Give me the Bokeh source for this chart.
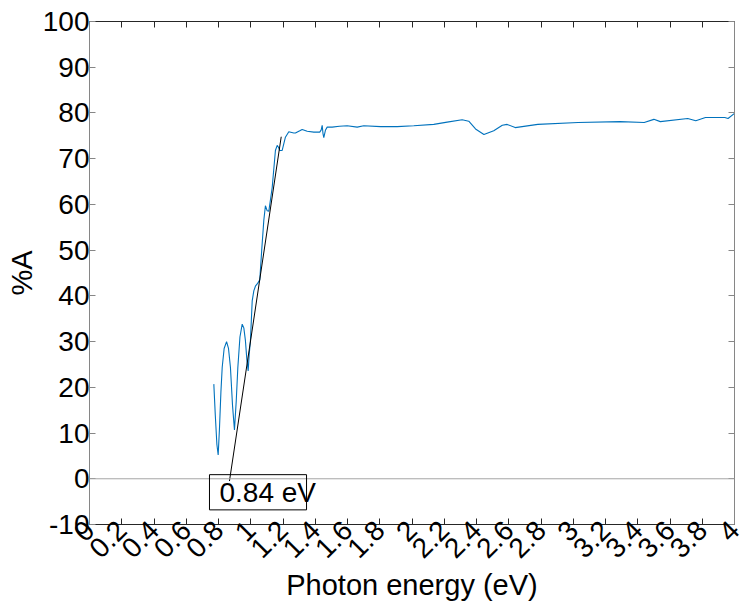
import math
from bokeh.plotting import figure
from bokeh.models import (LinearAxis, FixedTicker, Span, BoxAnnotation, Label, Range1d,
                          CustomLabelingPolicy)
from bokeh.embed import file_html
from bokeh.resources import INLINE

# ---- data ----
energy = [0.771, 0.780, 0.790, 0.798, 0.806, 0.815, 0.823, 0.835, 0.850, 0.862,
          0.874, 0.887, 0.899, 0.910, 0.920, 0.933, 0.947, 0.957, 0.967, 0.976,
          0.984, 0.990, 0.998, 1.009, 1.019, 1.030, 1.040, 1.056, 1.068, 1.081,
          1.091, 1.102, 1.112, 1.133, 1.153, 1.164, 1.172, 1.180, 1.195, 1.215,
          1.236, 1.267, 1.277, 1.304, 1.319, 1.350, 1.391, 1.428, 1.437, 1.443,
          1.448, 1.453, 1.463, 1.474, 1.505, 1.550, 1.598, 1.660, 1.701, 1.805,
          1.856, 1.908, 2.011, 2.135, 2.218, 2.311, 2.352, 2.394, 2.446, 2.507,
          2.560, 2.590, 2.640, 2.780, 3.030, 3.290, 3.440, 3.500, 3.540, 3.710,
          3.760, 3.820, 3.940, 3.960, 4.000]
absorb = [20.7, 14.0, 7.5, 5.2, 11.0, 19.0, 24.4, 28.5, 30.0, 28.5,
          24.4, 16.0, 10.7, 17.0, 24.4, 31.0, 33.8, 33.0, 30.2, 26.0,
          23.6, 27.0, 30.2, 38.9, 41.1, 42.2, 42.6, 43.5, 50.0, 56.5,
          59.7, 58.6, 58.5, 63.7, 71.8, 72.9, 72.5, 71.8, 71.8, 74.7,
          75.9, 75.6, 75.6, 76.1, 76.4, 76.0, 75.8, 75.8, 76.3, 77.3,
          75.5, 74.6, 76.2, 76.9, 76.9, 77.1, 77.2, 76.9, 77.2, 77.0,
          77.0, 77.0, 77.2, 77.5, 78.0, 78.5, 78.2, 76.5, 75.3, 76.1,
          77.3, 77.5, 76.8, 77.5, 77.9, 78.1, 77.9, 78.6, 78.1, 78.8,
          78.3, 79.0, 79.0, 78.8, 79.9]

tangent_x = [0.868, 1.189]
tangent_y = [-0.5, 74.8]

gap_label = "0.84 eV"
x_title = "Photon energy (eV)"
y_title = "%A"

x_ticks = [0, 0.2, 0.4, 0.6, 0.8, 1, 1.2, 1.4, 1.6, 1.8, 2, 2.2, 2.4, 2.6, 2.8,
           3, 3.2, 3.4, 3.6, 3.8, 4]
x_tick_labels = ["0", "0.2", "0.4", "0.6", "0.8", "1", "1.2", "1.4", "1.6", "1.8",
                 "2", "2.2", "2.4", "2.6", "2.8", "3", "3.2", "3.4", "3.6", "3.8", "4"]
y_ticks = [-10, 0, 10, 20, 30, 40, 50, 60, 70, 80, 90, 100]
y_tick_labels = ["-10", "0", "10", "20", "30", "40", "50", "60", "70", "80", "90", "100"]

# ---- styling ----
FONT = "Liberation Sans"
TICK_FS = "28px"
LABEL_FS = "29px"
GRAY = "#868686"
DARK = "#262626"

p = figure(width=747, height=604, output_backend="svg", toolbar_location=None,
           x_range=Range1d(0, 4), y_range=Range1d(-10, 100),
           min_border_left=89, min_border_right=13, min_border_top=21,
           min_border_bottom=80)
p.grid.visible = False
p.outline_line_color = None
p.background_fill_color = "white"

xa = p.xaxis[0]
xa.ticker = FixedTicker(ticks=x_ticks)
xa.major_label_overrides = {t: l for t, l in zip(x_ticks, x_tick_labels)}
xa.major_label_orientation = math.pi / 4
xa.axis_label = x_title

ya = p.yaxis[0]
ya.ticker = FixedTicker(ticks=y_ticks)
ya.major_label_overrides = {t: l for t, l in zip(y_ticks, y_tick_labels)}
ya.axis_label = y_title

top = LinearAxis(ticker=FixedTicker(ticks=x_ticks))
right = LinearAxis(ticker=FixedTicker(ticks=y_ticks))
p.add_layout(top, "above")
p.add_layout(right, "right")

for ax, col in ((xa, DARK), (ya, GRAY), (top, DARK), (right, GRAY)):
    ax.major_tick_in = 6
    ax.major_tick_out = 0
    ax.minor_tick_line_color = None
    ax.axis_line_color = col
    ax.major_tick_line_color = col
    ax.axis_line_width = 1
    ax.major_label_text_font = FONT
    ax.major_label_text_font_size = TICK_FS
    ax.major_label_text_color = "black"
    ax.axis_label_text_font = FONT
    ax.axis_label_text_font_size = LABEL_FS
    ax.axis_label_text_font_style = "normal"
    ax.axis_label_text_color = "black"
    ax.major_label_standoff = 0
    ax.axis_label_standoff = 2

xa.major_label_standoff = 1
xa.axis_label_standoff = 0

hide_all = CustomLabelingPolicy(code="""
for (const i of Array.from(indices)) indices.unset(i)
return indices
""")
for ax in (top, right):
    ax.major_label_policy = hide_all
    ax.major_label_text_font_size = "0px"
    ax.axis_label = None

# zero line
p.add_layout(Span(location=0, dimension="width", line_color="#a6a6a6", line_width=1))

# data curve
p.line(energy, absorb, line_color="#0072BD", line_width=1.1)

# tangent line
p.line(tangent_x, tangent_y, line_color="black", line_width=1)

# annotation box and text
p.add_layout(BoxAnnotation(left=0.744, right=1.346, bottom=-6.8, top=0.9,
                           fill_alpha=0, line_color="black", line_alpha=1, line_width=1))
p.add_layout(Label(x=0.806, y=-2.9, text=gap_label, text_baseline="middle",
                   text_font=FONT, text_font_size="28px", text_color="black"))

open("out.html", "w").write(file_html(p, INLINE))
